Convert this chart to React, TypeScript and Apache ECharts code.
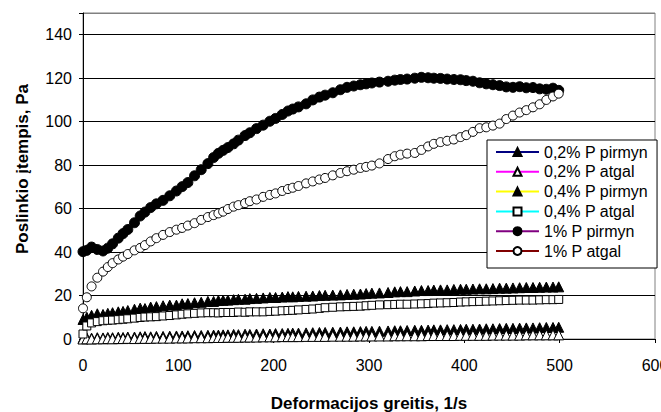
import React, { useEffect, useRef } from "react";
import * as echarts from "echarts";

// Deformation rate (1/s) of the measured points
const X_VALUES = [
  0, 4, 9, 15, 21, 26, 31, 37, 42, 47,
  54, 60, 65, 71, 77, 84, 91, 98, 104, 110,
  117, 124, 131, 137, 142, 147, 152, 158, 163, 170,
  175, 182, 189, 196, 202, 209, 215, 220, 226, 234,
  241, 248, 254, 262, 270, 277, 284, 291, 297, 303,
  311, 320, 327, 333, 340, 348, 355, 362, 368, 375,
  382, 389, 396, 402, 409, 416, 423, 430, 437, 444,
  451, 458, 465, 472, 479, 486, 493, 499,
];

// 0,2% P pirmyn
const P02_FWD = [
  0.3, 0.5, 0.4, 0.6, 0.5, 0.7, 0.6, 0.8, 0.7, 0.9,
  0.9, 1.0, 1.1, 1.0, 1.2, 1.2, 1.3, 1.4, 1.4, 1.5,
  1.6, 1.6, 1.7, 1.8, 1.8, 1.9, 1.9, 2.1, 2.0, 2.2,
  2.1, 2.3, 2.4, 2.3, 2.5, 2.5, 2.6, 2.7, 2.7, 2.8,
  2.9, 3.0, 3.0, 3.1, 3.2, 3.3, 3.3, 3.4, 3.5, 3.5,
  3.6, 3.7, 3.8, 3.8, 3.9, 4.0, 4.0, 4.1, 4.2, 4.2,
  4.3, 4.3, 4.4, 4.5, 4.5, 4.6, 4.7, 4.7, 4.8, 4.9,
  4.9, 5.0, 5.1, 5.1, 5.2, 5.3, 5.3, 5.4,
];

// 0,2% P atgal
const P02_BACK = [
  0.0, 0.1, 0.0, 0.1, 0.1, 0.2, 0.1, 0.2, 0.2, 0.3,
  0.2, 0.3, 0.3, 0.3, 0.4, 0.4, 0.4, 0.5, 0.5, 0.5,
  0.6, 0.6, 0.6, 0.7, 0.7, 0.7, 0.8, 0.8, 0.8, 0.9,
  0.9, 0.9, 1.0, 1.0, 1.0, 1.1, 1.1, 1.1, 1.1, 1.2,
  1.2, 1.2, 1.2, 1.3, 1.3, 1.3, 1.3, 1.4, 1.4, 1.4,
  1.4, 1.4, 1.5, 1.5, 1.5, 1.5, 1.5, 1.6, 1.6, 1.6,
  1.6, 1.6, 1.7, 1.7, 1.7, 1.7, 1.7, 1.8, 1.8, 1.8,
  1.8, 1.8, 1.9, 1.9, 1.9, 1.9, 1.9, 1.9,
];

// 0,4% P pirmyn
const P04_FWD = [
  9.0, 10.0, 10.9, 11.6, 11.3, 11.8, 12.1, 12.5, 12.7, 13.1,
  13.7, 14.2, 14.0, 14.7, 14.9, 15.3, 15.6, 15.6, 16.2, 16.3,
  16.7, 16.9, 17.3, 17.3, 17.7, 17.8, 17.9, 18.1, 18.3, 18.3,
  18.6, 18.7, 18.9, 19.1, 19.1, 19.3, 19.5, 19.4, 19.6, 19.7,
  19.8, 20.0, 20.1, 20.2, 20.3, 20.5, 20.6, 20.7, 20.9, 21.1,
  21.2, 21.4, 21.7, 21.8, 21.8, 22.1, 22.3, 22.3, 22.5, 22.6,
  22.6, 22.8, 22.9, 22.9, 23.0, 23.1, 23.1, 23.2, 23.4, 23.4,
  23.5, 23.6, 23.7, 23.7, 23.8, 23.9, 23.9, 24.0,
];

// 0,4% P atgal
const P04_BACK = [
  2.3, 6.0, 7.4, 8.0, 8.4, 8.6, 8.7, 8.9, 9.1, 9.3,
  9.6, 9.9, 10.1, 10.2, 10.3, 10.6, 10.8, 11.1, 11.4, 11.6,
  11.8, 12.0, 12.1, 12.1, 12.0, 12.2, 12.2, 12.2, 12.4, 12.3,
  12.5, 12.5, 12.5, 12.7, 12.8, 13.0, 13.1, 13.2, 13.4, 13.6,
  13.8, 14.1, 14.4, 14.6, 14.8, 14.9, 15.0, 15.1, 15.3, 15.5,
  15.7, 15.8, 15.9, 16.0, 16.0, 16.1, 16.2, 16.3, 16.5, 16.6,
  16.7, 16.8, 17.0, 17.1, 17.2, 17.3, 17.4, 17.5, 17.6, 17.7,
  17.8, 17.9, 17.9, 17.9, 18.0, 18.1, 18.1, 18.2,
];

// 1% P pirmyn
const P1_FWD = [
  40.2, 40.8, 42.3, 41.2, 40.5, 41.8, 43.8, 46.4, 48.5, 50.4,
  53.5, 56.6, 58.4, 60.5, 62.2, 63.8, 65.9, 68.1, 70.1, 72.0,
  75.1, 77.9, 80.7, 83.5, 85.4, 86.8, 88.1, 89.8, 91.5, 93.6,
  94.9, 96.8, 98.4, 100.2, 101.5, 103.3, 104.9, 105.8, 106.8, 108.2,
  110.0, 111.3, 112.2, 113.3, 114.7, 115.8, 116.4, 117.0, 117.4, 117.8,
  118.2, 118.6, 119.1, 119.4, 119.6, 120.0, 120.4, 120.2, 120.0, 119.9,
  119.6, 119.4, 119.3, 118.9, 118.6, 117.9, 117.4, 117.0, 116.6, 116.0,
  115.8, 116.1, 115.6, 115.7, 115.1, 114.9, 115.4, 114.4,
];

// 1% P atgal
const P1_BACK = [
  14.1, 19.2, 24.2, 28.2, 31.0, 33.1, 34.9, 36.6, 37.9, 39.1,
  40.8, 41.9, 43.2, 44.9, 46.4, 47.9, 49.2, 50.3, 51.1, 52.2,
  53.3, 54.8, 56.1, 57.0, 57.8, 58.6, 59.8, 60.9, 61.6, 62.5,
  63.4, 64.2, 65.4, 66.3, 67.0, 68.1, 69.0, 69.6, 70.4, 71.6,
  72.5, 73.4, 74.1, 75.3, 76.4, 77.2, 77.9, 78.7, 79.2, 79.8,
  80.8, 82.8, 84.1, 84.8, 85.3, 85.6, 87.0, 88.6, 89.8, 90.6,
  91.2, 91.8, 92.9, 93.8, 95.3, 97.0, 97.4, 98.2, 99.1, 101.2,
  102.8, 104.2, 105.3, 106.6, 108.0, 110.0, 111.6, 112.9,
];

const SERIES_NAMES = [
  "0,2% P pirmyn",
  "0,2% P atgal",
  "0,4% P pirmyn",
  "0,4% P atgal",
  "1% P pirmyn",
  "1% P atgal",
];
const SERIES_VALUES = [P02_FWD, P02_BACK, P04_FWD, P04_BACK, P1_FWD, P1_BACK];
const LINE_COLORS = ["#000080", "#FF00FF", "#FFFF00", "#00FFFF", "#800080", "#800000"];
const SYMBOLS = ["triangle", "triangle", "triangle", "rect", "circle", "circle"];
const FILLED = [true, false, true, false, true, false];
const SYMBOL_SIZES = [10, 10, 10, 8, 10, 9];

const X_TITLE = "Deformacijos greitis, 1/s";
const Y_TITLE = "Poslinkio įtempis, Pa";

const FONT = "'Liberation Sans', Arial, sans-serif";

export default function App() {
  const ref = useRef<HTMLDivElement>(null);

  useEffect(() => {
    if (!ref.current) return;
    const chart = echarts.init(ref.current, undefined, { renderer: "svg" });

    const series = SERIES_NAMES.map((name, i) => ({
      name,
      type: "line",
      data: X_VALUES.map((x, j) => [x, SERIES_VALUES[i][j]]),
      symbol: SYMBOLS[i],
      symbolSize: SYMBOL_SIZES[i],
      showAllSymbol: true,
      clip: false,
      lineStyle: { color: LINE_COLORS[i], width: 0 },
      itemStyle: {
        color: FILLED[i] ? "#000000" : "#ffffff",
        borderColor: "#000000",
        borderWidth: 1,
      },
      emphasis: { disabled: true },
      z: 2 + i,
    }));

    chart.setOption({
      animation: false,
      textStyle: { fontFamily: FONT },
      grid: {
        left: 83,
        right: 6,
        top: 13,
        bottom: 73,
        show: true,
        borderColor: "#808080",
        borderWidth: 1,
        backgroundColor: "transparent",
        outerBoundsMode: "none",
        containLabel: false,
      },
      xAxis: {
        type: "value",
        min: 0,
        max: 600,
        interval: 100,
        axisLine: { show: true, lineStyle: { color: "#000", width: 1 } },
        axisTick: { show: true, inside: false, length: 4, lineStyle: { color: "#000" } },
        axisLabel: { color: "#000", fontSize: 16, fontFamily: FONT, margin: 18 },
        splitLine: { show: false },
      },
      yAxis: {
        type: "value",
        min: 0,
        max: 150,
        interval: 20,
        axisLine: { show: true, lineStyle: { color: "#000", width: 1 } },
        axisTick: { show: true, inside: false, length: 4, lineStyle: { color: "#000" } },
        axisLabel: {
          color: "#000",
          fontSize: 16,
          fontFamily: FONT,
          margin: 11,
          formatter: (v: number) => (v % 20 === 0 ? String(v) : ""),
        },
        splitLine: {
          show: true,
          lineStyle: {
            color: ["#000", "#000", "#000", "#000", "#000", "#000", "#000", "#000", "#808080"],
            width: 1,
          },
        },
      },
      legend: {
        orient: "vertical",
        left: 487,
        top: 140,
        data: SERIES_NAMES,
        backgroundColor: "#ffffff",
        borderColor: "#000000",
        borderWidth: 1,
        borderRadius: 0,
        padding: [4, 9, 9, 8],
        itemWidth: 43,
        itemHeight: 10,
        itemGap: 3.8,
        itemTextGap: 5,
        lineStyle: { width: 2 },
        textStyle: { color: "#000", fontSize: 16, fontFamily: FONT },
        selectedMode: false,
        z: 10,
      },
      graphic: [
        {
          type: "text",
          x: 369,
          y: 403,
          style: {
            text: X_TITLE,
            fill: "#000",
            font: `bold 17px ${FONT}`,
            align: "center",
            verticalAlign: "middle",
          },
        },
        {
          type: "text",
          x: 22,
          y: 169,
          rotation: Math.PI / 2,
          style: {
            text: Y_TITLE,
            fill: "#000",
            font: `bold 17px ${FONT}`,
            align: "center",
            verticalAlign: "middle",
          },
        },
      ],
      series,
    });

    return () => chart.dispose();
  }, []);

  return (
    <div
      ref={ref}
      style={{ position: "fixed", left: 0, top: 0, width: 661, height: 412, background: "#fff" }}
    />
  );
}
